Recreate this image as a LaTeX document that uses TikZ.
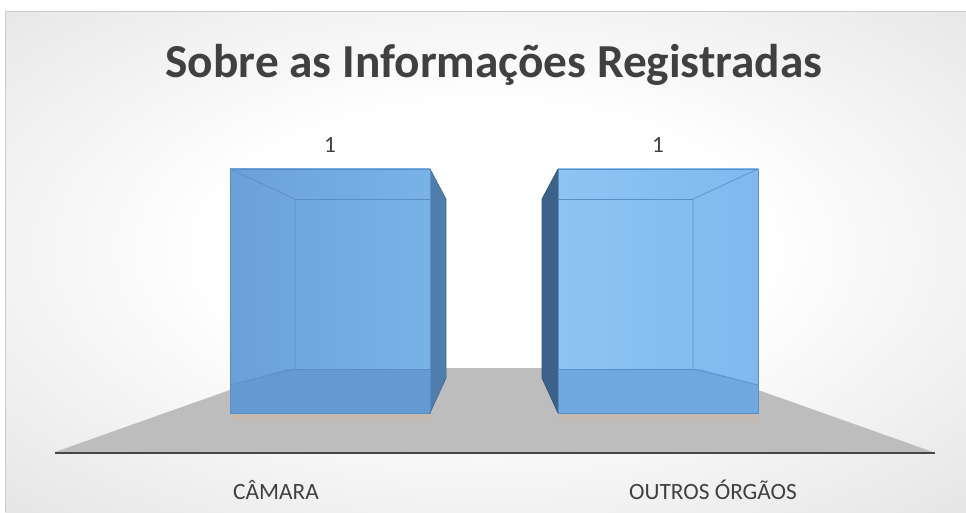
\documentclass[tikz,border=0pt]{standalone}
\usepackage{fontspec}
\setmainfont{Carlito}
\definecolor{txtgray}{RGB}{64,64,64}
\definecolor{floorgray}{RGB}{189,189,189}
\definecolor{axisgray}{RGB}{70,70,70}
\definecolor{shadowtan}{RGB}{200,186,172}
\definecolor{lfrontL}{RGB}{106,162,216}
\definecolor{lfrontR}{RGB}{120,178,230}
\definecolor{lbottom}{RGB}{100,154,210}
\definecolor{lside}{RGB}{80,126,172}
\definecolor{rfrontL}{RGB}{140,196,244}
\definecolor{rfrontR}{RGB}{126,186,238}
\definecolor{rbottom}{RGB}{112,168,224}
\definecolor{rside}{RGB}{60,98,138}
\definecolor{edgeblue}{RGB}{92,142,198}
\pgfdeclareradialshading{bgshade}{\pgfpoint{0bp}{0bp}}{color(0bp)=(white); color(10bp)=(white); color(50bp)=(black!26)}
\tikzset{
  titletext/.style={font=\fontsize{35.5}{40}\selectfont\bfseries, text=txtgray, inner sep=0pt, anchor=base},
  lbltext/.style={font=\fontsize{17.5}{20}\selectfont, text=txtgray, inner sep=0pt, anchor=base},
  boxedge/.style={draw=edgeblue, line width=0.5pt},
}
\begin{document}
\begin{tikzpicture}[x=0.75pt,y=-0.75pt]
\useasboundingbox (0,0) rectangle (966,513);
\fill[white] (0,0) rectangle (966,513);
% background
\begin{scope}
  \clip (5,12) rectangle (966,512);
  \shade[shading=bgshade] (-205,-110) rectangle (1175,610);
\end{scope}
\draw[black!20, line width=0.75pt] (5,12) -- (966,12) (5,12) -- (5,512);
% floor
\fill[floorgray] (55,452) -- (292,368) -- (696,368) -- (933,452) -- cycle;
\draw[axisgray, line width=1.6pt] (55,453) -- (935,453);
% shadows
\fill[shadowtan, opacity=0.7] (232,413) rectangle (430,421);
\fill[shadowtan, opacity=0.7] (558,413) rectangle (756,421);
% left bar
\fill[lside] (430,169) -- (446,199) -- (446,378) -- (430,413) -- cycle;
\shade[left color=lfrontL, right color=lfrontR] (230,169) rectangle (430,413);
\fill[lbottom] (230,385) -- (287,369) -- (430,369) -- (430,413) -- (230,413) -- cycle;
\draw[boxedge] (230,169) -- (295,199) -- (295,369) -- (230,385);
\draw[boxedge] (295,199) -- (430,199);
\draw[boxedge] (295,369) -- (430,369);
\draw[boxedge] (230,169) rectangle (430,413);
\draw[boxedge, draw=lside!85!black] (430,169) -- (446,199) -- (446,378) -- (430,413);
% right bar
\fill[rside] (558,169) -- (542,199) -- (542,378) -- (558,413) -- cycle;
\shade[left color=rfrontL, right color=rfrontR] (558,169) rectangle (758,413);
\fill[rbottom] (758,385) -- (701,369) -- (558,369) -- (558,413) -- (758,413) -- cycle;
\draw[boxedge] (758,169) -- (693,199) -- (693,369) -- (758,385);
\draw[boxedge] (693,199) -- (558,199);
\draw[boxedge] (693,369) -- (558,369);
\draw[boxedge] (558,169) rectangle (758,413);
\draw[boxedge, draw=rside!85!black] (558,169) -- (542,199) -- (542,378) -- (558,413);
% texts
\node[titletext] (title) at (494,78) {Sobre as Informações Registradas};
\node[lbltext] (v1) at (330,153) {1};
\node[lbltext] (v2) at (658,153) {1};
\node[lbltext] (c1) at (276,499) {CÂMARA};
\node[lbltext] (c2) at (713,499) {OUTROS ÓRGÃOS};
\end{tikzpicture}
\end{document}
